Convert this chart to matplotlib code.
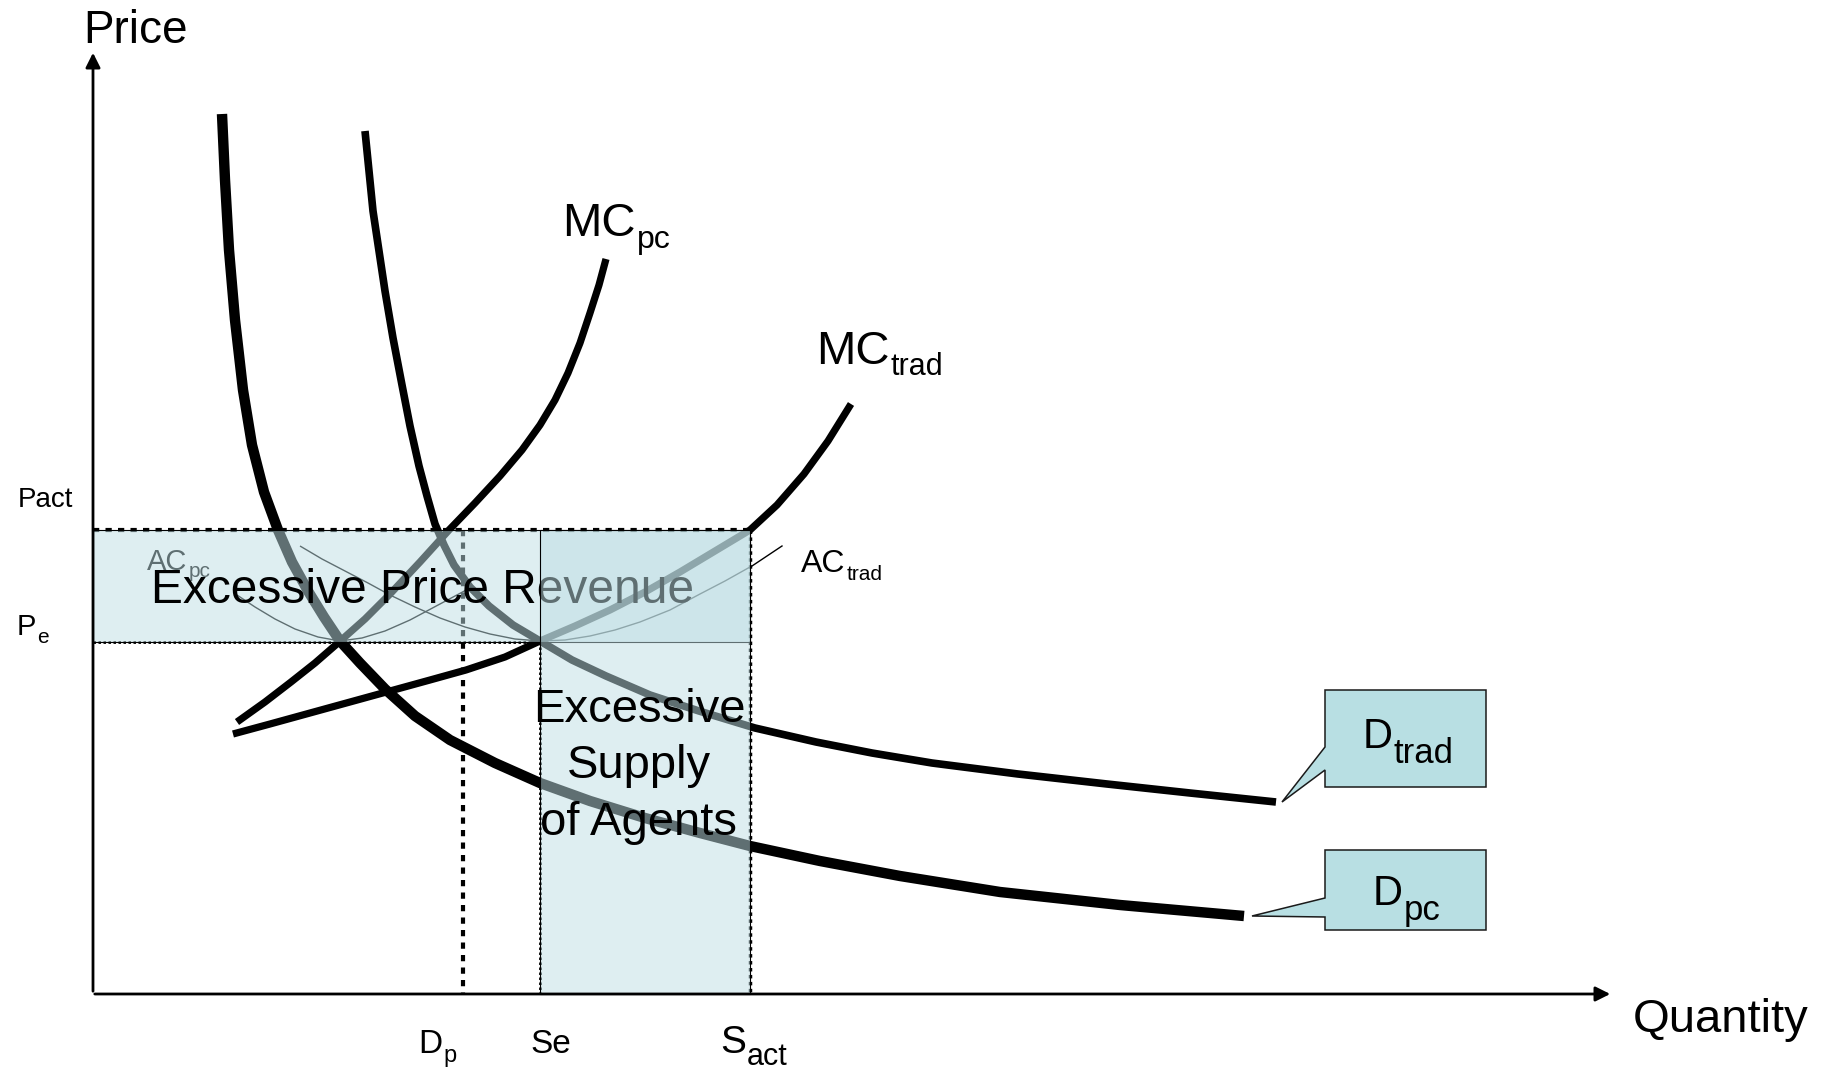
import numpy as np
import matplotlib.pyplot as plt
from matplotlib.patches import Rectangle, Polygon

plt.rcParams['font.family'] = ['Liberation Sans', 'DejaVu Sans']

# picture units: x = quantity (to the right), y = price (drawn downwards)
origin = (93, 994)
q_dp, q_se, q_sact = 463, 540, 750
p_act, p_e = 530, 642

dpc_x = [222, 225, 229, 235, 243, 252, 264, 278, 292, 308, 324, 340, 360, 385, 415, 450, 495,
         540, 590, 645, 700, 750, 820, 900, 1000, 1120, 1244]
dpc_y = [114, 180, 250, 320, 390, 445, 492, 530, 562, 591, 617, 641, 663, 689, 716, 740, 763,
         783, 801, 818, 833, 846, 861, 876, 892, 905, 916]

dtrad_x = [365, 373, 385, 393, 402, 410, 419, 427, 435, 444, 454, 470, 489, 513, 540, 572, 606,
           650, 699, 755, 816, 872, 932, 1018, 1107, 1190, 1276]
dtrad_y = [131, 211, 291, 338, 385, 426, 466, 496, 524, 545, 565, 587, 606, 625, 641, 660, 676,
           695, 711, 728, 742, 753, 763, 774, 784, 793, 802]

mcpc_x = [237, 265, 291, 315, 338, 365, 390, 420, 449, 475, 500, 522, 540, 555, 568, 580, 590, 599, 606]
mcpc_y = [722, 702, 682, 663, 643, 619, 594, 562, 530, 503, 476, 450, 425, 400, 373, 343, 313, 285, 259]

mctrad_x = [233, 270, 310, 350, 390, 430, 466, 505, 540, 575, 610, 645, 680, 715, 750, 777, 804, 828, 851]
mctrad_y = [734, 724, 713, 702, 691, 680, 670, 657, 641, 626, 610, 592, 572, 551, 530, 505, 474, 441, 404]

acpc_x = [237, 255, 275, 295, 318, 340, 362, 385, 410, 440, 470]
acpc_y = [595, 607, 619, 629, 637, 641, 638, 631, 620, 604, 588]

actrad_x = [300, 322, 345, 368, 390, 415, 440, 465, 490, 515, 540, 565, 590, 615, 640, 670, 700, 725, 750]
actrad_y = [546, 559, 571, 583, 595, 607, 618, 627, 634, 639, 641, 640, 636, 630, 622, 610, 594, 581, 567]

fig = plt.figure(figsize=(18.27, 10.73), dpi=100)
ax = fig.add_axes([0, 0, 1, 1])
ax.set_xlim(0, 1827)
ax.set_ylim(1073, 0)
ax.axis('off')
renderer = fig.canvas.get_renderer()


def label(x, y, base, sub, fs, sub_fs, drop, **kw):
    # base text plus a lowered subscript, like the slide's text boxes
    t = ax.text(x, y, base, fontsize=fs, ha='left', va='baseline', **kw)
    bb = t.get_window_extent(renderer)
    x1 = ax.transData.inverted().transform((bb.x1, bb.y0))[0]
    ax.text(x1 + 1, y + drop, sub, fontsize=sub_fs, ha='left', va='baseline', **kw)


# curves
kw = dict(color='black', solid_capstyle='butt', solid_joinstyle='round', zorder=2)
ax.plot(dpc_x, dpc_y, lw=7.5, **kw)
ax.plot(dtrad_x, dtrad_y, lw=5.5, **kw)
ax.plot(mcpc_x, mcpc_y, lw=5.2, **kw)
ax.plot(mctrad_x, mctrad_y, lw=5.2, **kw)
ax.plot(acpc_x, acpc_y, lw=1.0, **kw)
ax.plot(actrad_x, actrad_y, lw=1.0, **kw)
ax.plot([752, 782], [566, 546], color='black', lw=1.0, zorder=2)   # ACtrad leader

# dotted guide lines
ax.plot([origin[0], q_sact], [p_act, p_act], color='k', lw=3, ls=(0, (1.5, 1.5)), zorder=2)
ax.plot([origin[0], q_se], [p_e, p_e], color='k', lw=2, ls=(0, (0.9, 0.9)), zorder=2)
ax.plot([q_dp, q_dp], [p_act, origin[1]], color='k', lw=3, ls=(0, (1.5, 1.5)), zorder=2)
ax.plot([q_se, q_se], [p_e, origin[1]], color='k', lw=2, ls=(0, (0.9, 0.9)), zorder=2)
ax.plot([q_sact, q_sact], [p_act, origin[1]], color='k', lw=2.5, ls=(0, (1.0, 1.0)), zorder=2)

label(147, 570, 'AC', 'pc', 21, 15, 7, zorder=2)

# shaded regions
shade = (190/255, 222/255, 228/255, 0.5)
ax.add_patch(Rectangle((origin[0], p_act), q_sact - origin[0], p_e - p_act,
                       facecolor=shade, edgecolor='black', lw=0.8, zorder=3))
ax.text(151, 603, 'Excessive Price Revenue', fontsize=34.5, ha='left', va='baseline', zorder=4)
ax.add_patch(Rectangle((q_se, p_act), q_sact - q_se, origin[1] - p_act,
                       facecolor=shade, edgecolor='black', lw=0.8, zorder=5))
for line, yb in zip(['Excessive', 'Supply', 'of Agents'], [722, 778, 835]):
    ax.text(639, yb, line, fontsize=34, ha='center', va='baseline', zorder=6)

# axes with arrows
ax.annotate('', xy=(origin[0], 50), xytext=origin,
            arrowprops=dict(arrowstyle='-|>', color='black', lw=2, mutation_scale=22), zorder=7)
ax.annotate('', xy=(1613, origin[1]), xytext=(origin[0] - 1, origin[1]),
            arrowprops=dict(arrowstyle='-|>', color='black', lw=2, mutation_scale=22), zorder=7)
ax.text(83, 43, 'Price', fontsize=33, ha='left', va='baseline')
ax.text(1633, 1032, 'Quantity', fontsize=34, ha='left', va='baseline')

# curve labels
label(562, 236, 'MC', 'pc', 34, 23, 12)
label(816, 364, 'MC', 'trad', 34, 22, 11)
label(801, 572, 'AC', 'trad', 23, 15, 8)

# axis value labels
ax.text(18, 507, 'Pact', fontsize=20, ha='left', va='baseline')
label(17, 635, 'P', 'e', 21, 15, 8)
label(418, 1053, 'D', 'p', 24, 17, 9)
ax.text(530, 1053, 'Se', fontsize=24, ha='left', va='baseline')
label(720, 1053, 'S', 'act', 28, 22, 12)

# callouts for the demand curves
callouts = [
    # box (x0, y0, x1, y1), notch (y_a, y_b), tip, label, subscript, label position
    ((1325, 690, 1486, 787), (747, 770), (1282, 802), 'D', 'trad', (1363, 748)),
    ((1325, 850, 1486, 930), (898, 917), (1252, 916), 'D', 'pc', (1373, 905)),
]
for (x0, y0, x1, y1), (na, nb), tip, lab, sub, pos in callouts:
    pts = [(x0, y0), (x1, y0), (x1, y1), (x0, y1), (x0, nb), tip, (x0, na)]
    ax.add_patch(Polygon(pts, closed=True, facecolor='#b8dfe3', edgecolor='#1a1a1a',
                         lw=1.1, zorder=6))
    label(pos[0], pos[1], lab, sub, 30, 25, 15, zorder=7)

fig.savefig('out.png', dpi=100)
